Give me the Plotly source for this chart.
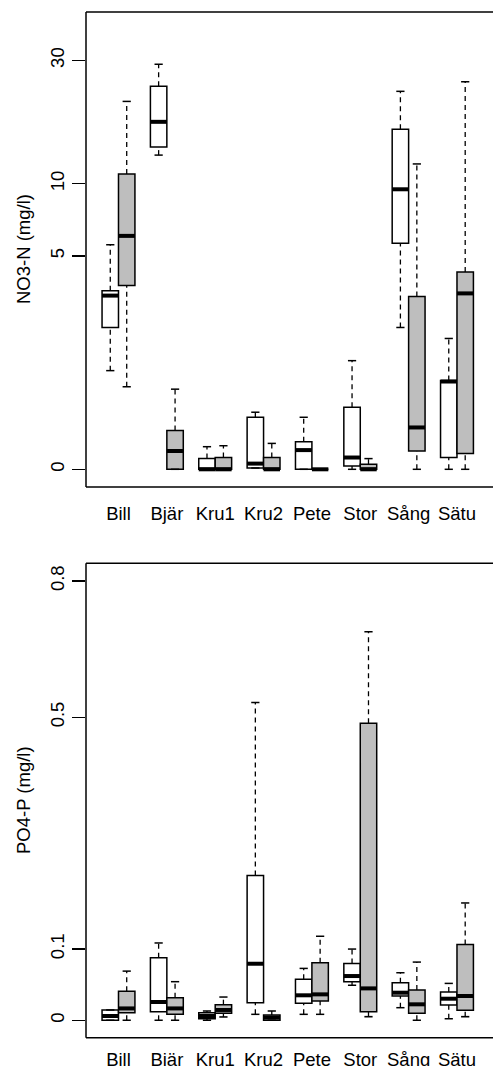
import numpy as np
import plotly.graph_objects as go

# ---------------- data (mg/l) ----------------
sites = ["Bill", "Bjär", "Kru1", "Kru2", "Pete", "Stor", "Sång", "Sätu"]

# NO3-N, white series: lower whisker, Q1, median, Q3, upper whisker
no3_w_low = [1.29, 12.99, 0.0, 0.011, 0.0, 0.0, 2.29, 0.0]
no3_w_q1 = [2.29, 13.97, 0.0, 0.011, 0.0, 0.029, 5.67, 0.104]
no3_w_med = [3.30, 17.5, 0.0, 0.049, 0.175, 0.104, 9.5, 1.09]
no3_w_q3 = [3.48, 23.96, 0.094, 0.548, 0.261, 0.685, 16.4, 1.11]
no3_w_high = [5.59, 29.0, 0.209, 0.615, 0.548, 1.49, 22.9, 2.0]

# NO3-N, grey series
no3_g_low = [1.00, 0.0, 0.0, 0.0, 0.0, 0.0, 0.0, 0.0]
no3_g_q1 = [3.68, 0.0, 0.0, 0.0, 0.0, 0.0, 0.166, 0.142]
no3_g_med = [6.10, 0.166, 0.0, 0.0, 0.0, 0.0, 0.421, 3.38]
no3_g_q3 = [10.93, 0.385, 0.104, 0.104, 0.0, 0.0435, 3.27, 4.24]
no3_g_high = [20.96, 0.96, 0.219, 0.243, 0.0, 0.094, 11.99, 24.9]

# PO4-P, white series
po4_w_low = [0.0, 0.0, 0.0, 0.008, 0.008, 0.048, 0.017, 0.0022]
po4_w_q1 = [0.0, 0.0116, 0.0022, 0.0239, 0.023, 0.053, 0.033, 0.0207]
po4_w_med = [0.0058, 0.0248, 0.0058, 0.0786, 0.034, 0.061, 0.0376, 0.0293]
po4_w_q3 = [0.0139, 0.0873, 0.0102, 0.2136, 0.0563, 0.079, 0.0516, 0.0385]
po4_w_high = [0.0139, 0.109, 0.0125, 0.5297, 0.0719, 0.100, 0.0657, 0.0506]

# PO4-P, grey series
po4_g_low = [0.0, 0.0, 0.0045, 0.0, 0.008, 0.0049, 0.0, 0.0049]
po4_g_q1 = [0.0102, 0.008, 0.0094, 0.0, 0.0262, 0.0116, 0.0093, 0.0134]
po4_g_med = [0.016, 0.016, 0.0139, 0.0036, 0.0353, 0.0436, 0.0216, 0.033]
po4_g_q3 = [0.0395, 0.0307, 0.0211, 0.0071, 0.080, 0.488, 0.0413, 0.1068]
po4_g_high = [0.068, 0.053, 0.0316, 0.0125, 0.119, 0.682, 0.081, 0.170]

no3_ticks = [0, 5, 10, 30]
no3_ticktext = ["0", "5", "10", "30"]
po4_ticks = [0, 0.1, 0.5, 0.8]
po4_ticktext = ["0", "0.1", "0.5", "0.8"]

# ---------------- styling ----------------
FONT = "Liberation Sans, Arial, Helvetica, sans-serif"
GREY = "#BEBEBE"
BOX_W = 0.34
OFFSET = 0.17
STAPLE = BOX_W / 4.0

fig = go.Figure()


def add_series(low, q1, med, q3, high, offset, fill, xa, ya):
    t = np.log1p
    pos = [i + 1 + offset for i in range(len(sites))]
    q1t, medt, q3t = t(q1), t(med), t(q3)
    lowt, hight = t(low), t(high)
    fig.add_trace(go.Box(
        x=pos, q1=q1t, median=medt, q3=q3t, lowerfence=q1t, upperfence=q3t,
        width=BOX_W, whiskerwidth=0, fillcolor=fill,
        line=dict(color="black", width=1.5), boxpoints=False,
        xaxis=xa, yaxis=ya, showlegend=False, hoverinfo="skip"))
    # dashed whiskers
    wx, wy = [], []
    for p, a, b, c, d in zip(pos, lowt, q1t, q3t, hight):
        wx += [p, p, None, p, p, None]
        wy += [a, b, None, c, d, None]
    fig.add_trace(go.Scatter(x=wx, y=wy, mode="lines",
                             line=dict(color="black", width=1.3, dash="5px,4px"),
                             xaxis=xa, yaxis=ya, showlegend=False, hoverinfo="skip"))
    # staples
    sx, sy = [], []
    for p, a, d in zip(pos, lowt, hight):
        sx += [p - STAPLE, p + STAPLE, None, p - STAPLE, p + STAPLE, None]
        sy += [a, a, None, d, d, None]
    fig.add_trace(go.Scatter(x=sx, y=sy, mode="lines",
                             line=dict(color="black", width=1.5),
                             xaxis=xa, yaxis=ya, showlegend=False, hoverinfo="skip"))
    # thick medians
    mx, my = [], []
    for p, m in zip(pos, medt):
        mx += [p - BOX_W / 2, p + BOX_W / 2, None]
        my += [m, m, None]
    fig.add_trace(go.Scatter(x=mx, y=my, mode="lines",
                             line=dict(color="black", width=4),
                             xaxis=xa, yaxis=ya, showlegend=False, hoverinfo="skip"))


add_series(no3_w_low, no3_w_q1, no3_w_med, no3_w_q3, no3_w_high, -OFFSET, "white", "x", "y")
add_series(no3_g_low, no3_g_q1, no3_g_med, no3_g_q3, no3_g_high, OFFSET, GREY, "x", "y")
add_series(po4_w_low, po4_w_q1, po4_w_med, po4_w_q3, po4_w_high, -OFFSET, "white", "x2", "y2")
add_series(po4_g_low, po4_g_q1, po4_g_med, po4_g_q3, po4_g_high, OFFSET, GREY, "x2", "y2")

H = 1066.0
xrange = [0.328, 8.745]
xcommon = dict(range=xrange, tickvals=list(range(1, len(sites) + 1)), ticktext=sites,
               ticks="", showgrid=False, zeroline=False, showline=False,
               tickfont=dict(family=FONT, size=18.5, color="black"),
               automargin=False, fixedrange=True)
ycommon = dict(ticks="outside", ticklen=13, tickwidth=1.5, tickcolor="black",
               tickangle=-90, showgrid=False, zeroline=False, showline=False,
               tickfont=dict(family=FONT, size=18.5, color="black"),
               ticklabelstandoff=1, automargin=False, fixedrange=True)

fig.update_layout(
    width=493, height=1066,
    margin=dict(l=86, r=0, t=0, b=0),
    paper_bgcolor="white", plot_bgcolor="white",
    showlegend=False,
    xaxis=dict(domain=[0, 1], anchor="y", ticklabelstandoff=13, **xcommon),
    xaxis2=dict(domain=[0, 1], anchor="y2", ticklabelstandoff=9, **xcommon),
    yaxis=dict(domain=[1 - 487 / H, 1 - 12 / H], anchor="x",
               range=[-0.1486, 3.840],
               tickvals=list(np.log1p(no3_ticks)), ticktext=no3_ticktext, **ycommon),
    yaxis2=dict(domain=[1 - 1037.7 / H, 1 - 563.3 / H], anchor="x2",
                range=[-0.0233, 0.6115],
                tickvals=list(np.log1p(po4_ticks)), ticktext=po4_ticktext, **ycommon),
)

# frames (left, top, bottom; the right edge lies outside the picture)
for xa, ya in (("x", "y"), ("x2", "y2")):
    for x0, y0, x1, y1 in ((0, 0, 0, 1), (0, 1, 1, 1), (0, 0, 1, 0)):
        fig.add_shape(type="line", xref=f"{xa} domain", yref=f"{ya} domain",
                      x0=x0, y0=y0, x1=x1, y1=y1,
                      line=dict(color="black", width=1.5))

# y-axis titles
for text, ymid in (("NO3-N (mg/l)", 1 - 249.5 / H), ("PO4-P (mg/l)", 1 - 800.5 / H)):
    fig.add_annotation(text=text, textangle=-90, xref="paper", yref="paper",
                       x=(23.5 - 86) / 407.0, y=ymid, xanchor="center", yanchor="middle",
                       showarrow=False, font=dict(family=FONT, size=18.5, color="black"))

fig.write_html(
    "out.html",
    config={"displayModeBar": False, "staticPlot": True},
    post_script="document.body.style.margin='0';document.body.style.overflow='hidden';",
)
